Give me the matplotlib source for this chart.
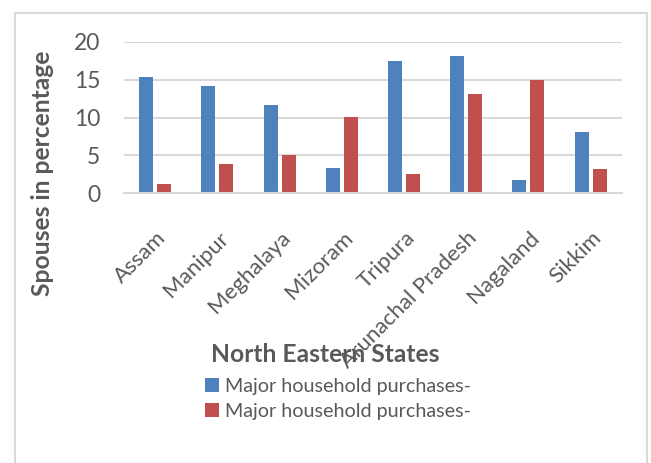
import numpy as np
import matplotlib
matplotlib.use("Agg")
import matplotlib.pyplot as plt
import matplotlib.transforms as mtransforms
from matplotlib.patches import Rectangle

plt.rcParams['font.family'] = ['Lato', 'DejaVu Sans']

# -------------------------------------------------
# Data
# -------------------------------------------------

states = ['Assam', 'Manipur', 'Meghalaya', 'Mizoram', 'Tripura',
          'Arunachal Pradesh', 'Nagaland', 'Sikkim']
purchases_a = [15.4, 14.1, 11.6, 3.4, 17.4, 18.1, 1.8, 8.1]
purchases_b = [1.2, 3.9, 5.1, 10.1, 2.6, 13.1, 14.9, 3.2]
series_names = ['Major household purchases-', 'Major household purchases-']

blue = '#4F81BD'
red = '#C0504D'
grey_txt = '#595959'
grid_c = '#D9D9D9'

# -------------------------------------------------
# Figure
# -------------------------------------------------

fig = plt.figure(figsize=(6.51, 4.63), dpi=100)
fig.patch.set_facecolor('white')

# chart frame
fig.patches.append(Rectangle((15/651, -0.05), (647-15)/651, 1 - 13/463 + 0.05,
                             transform=fig.transFigure, fill=False,
                             edgecolor=grid_c, linewidth=1.5))

ax = fig.add_axes([124/651, 1 - 193.3/463, (621.7-124)/651, (193.3-41.7)/463])

x = np.arange(len(states))
w = 0.225
off = 0.145
ax.bar(x - off, purchases_a, w, color=blue, label=series_names[0])
ax.bar(x + off, purchases_b, w, color=red, label=series_names[1])

ax.set_xlim(-0.5, len(states) - 0.5)
ax.set_ylim(0, 20)
ax.set_yticks([0, 5, 10, 15, 20])
ax.yaxis.grid(True, color=grid_c, linewidth=1.5)
ax.set_axisbelow(True)
for s in ['top', 'right', 'left']:
    ax.spines[s].set_visible(False)
ax.spines['bottom'].set_color(grid_c)
ax.spines['bottom'].set_linewidth(1.5)
ax.tick_params(axis='y', length=0, pad=17, labelsize=16.5, labelcolor=grey_txt)
ax.tick_params(axis='x', length=0, pad=30, labelsize=16, labelcolor=grey_txt)

ax.set_xticks(x)
ax.set_xticklabels(states, rotation=45, ha='right', va='center',
                   rotation_mode='anchor')
shift = mtransforms.ScaledTranslation(8/100, 0, fig.dpi_scale_trans)
for lbl in ax.get_xticklabels():
    lbl.set_transform(lbl.get_transform() + shift)

fig.text(43/651, 1 - 173/463, 'Spouses in percentage', rotation=90,
         ha='center', va='center', fontsize=17.7, fontweight='bold', color=grey_txt)
fig.text(325/651, 1 - 355/463, 'North Eastern States',
         ha='center', va='center', fontsize=17.7, fontweight='bold', color=grey_txt)

leg = fig.legend(loc='upper left', bbox_to_anchor=(205/651, 1 - 378/463),
                 frameon=False, fontsize=14.2, labelcolor=grey_txt,
                 handlelength=0.7, handleheight=0.7, handletextpad=0.3,
                 labelspacing=0.4, borderaxespad=0, borderpad=0)

fig.savefig('out.png', dpi=100)
